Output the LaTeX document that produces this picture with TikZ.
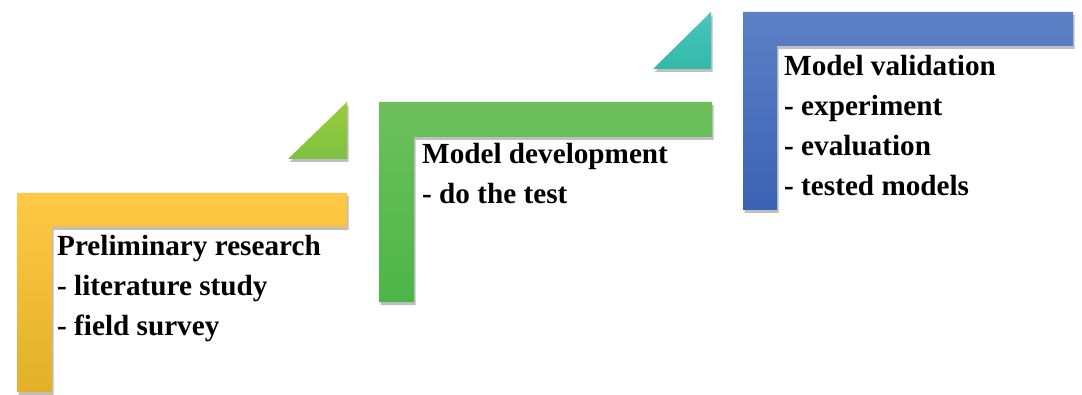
\documentclass[tikz,border=0pt]{standalone}
\usepackage{fontspec}
\setmainfont{Liberation Serif}
\usetikzlibrary{shadows}
\definecolor{yTop}{HTML}{FFC845}
\definecolor{yMid}{HTML}{FFC209}
\definecolor{yBot}{HTML}{E2B128}
\definecolor{gTop}{HTML}{6DC05C}
\definecolor{gBot}{HTML}{4CB648}
\definecolor{bTop}{HTML}{5D80C6}
\definecolor{bBot}{HTML}{3A63B4}
\definecolor{tgTop}{HTML}{9CCB3B}
\definecolor{tgBot}{HTML}{7DC142}
\definecolor{ttTop}{HTML}{4BC4C0}
\definecolor{ttBot}{HTML}{33B9A8}
\tikzset{
  shad/.style={drop shadow={shadow xshift=1.5pt, shadow yshift=-3pt, opacity=0.25, fill=black}},
  lbl/.style={anchor=base west, inner sep=0pt, font=\bfseries\fontsize{29.2}{34}\selectfont, text=black},
}
\begin{document}
\begin{tikzpicture}[x=1pt,y=1pt]
\useasboundingbox (0,0) rectangle (1082,394);
% yellow L
\path[shad, top color=yTop, middle color=yMid, bottom color=yBot]
  (17,201) -- (347,201) -- (347,167) -- (52,167) -- (52,2) -- (17,2) -- cycle;
% green triangle
\path[shad, top color=tgTop, bottom color=tgBot]
  (347,292) -- (347,235) -- (288,235) -- cycle;
% green L
\path[shad, top color=gTop, bottom color=gBot]
  (379,292) -- (712,292) -- (712,257) -- (414,257) -- (414,92) -- (379,92) -- cycle;
% teal triangle
\path[shad, top color=ttTop, bottom color=ttBot]
  (711,382) -- (711,325) -- (653,325) -- cycle;
% blue L
\path[shad, top color=bTop, bottom color=bBot]
  (743,382) -- (1073,382) -- (1073,348) -- (777,348) -- (777,184) -- (743,184) -- cycle;
% texts
\node[lbl] (y1) at (57,139) {Preliminary research};
\node[lbl] (y2) at (57,99) {- literature study};
\node[lbl] (y3) at (57,59) {- field survey};
\node[lbl] (g1) at (422,230) {Model development};
\node[lbl] (g2) at (422,190) {- do the test};
\node[lbl] (b1) at (784,318) {Model validation};
\node[lbl] (b2) at (784,278) {- experiment};
\node[lbl] (b3) at (784,238) {- evaluation};
\node[lbl] (b4) at (784,198) {- tested models};
\end{tikzpicture}
\end{document}
